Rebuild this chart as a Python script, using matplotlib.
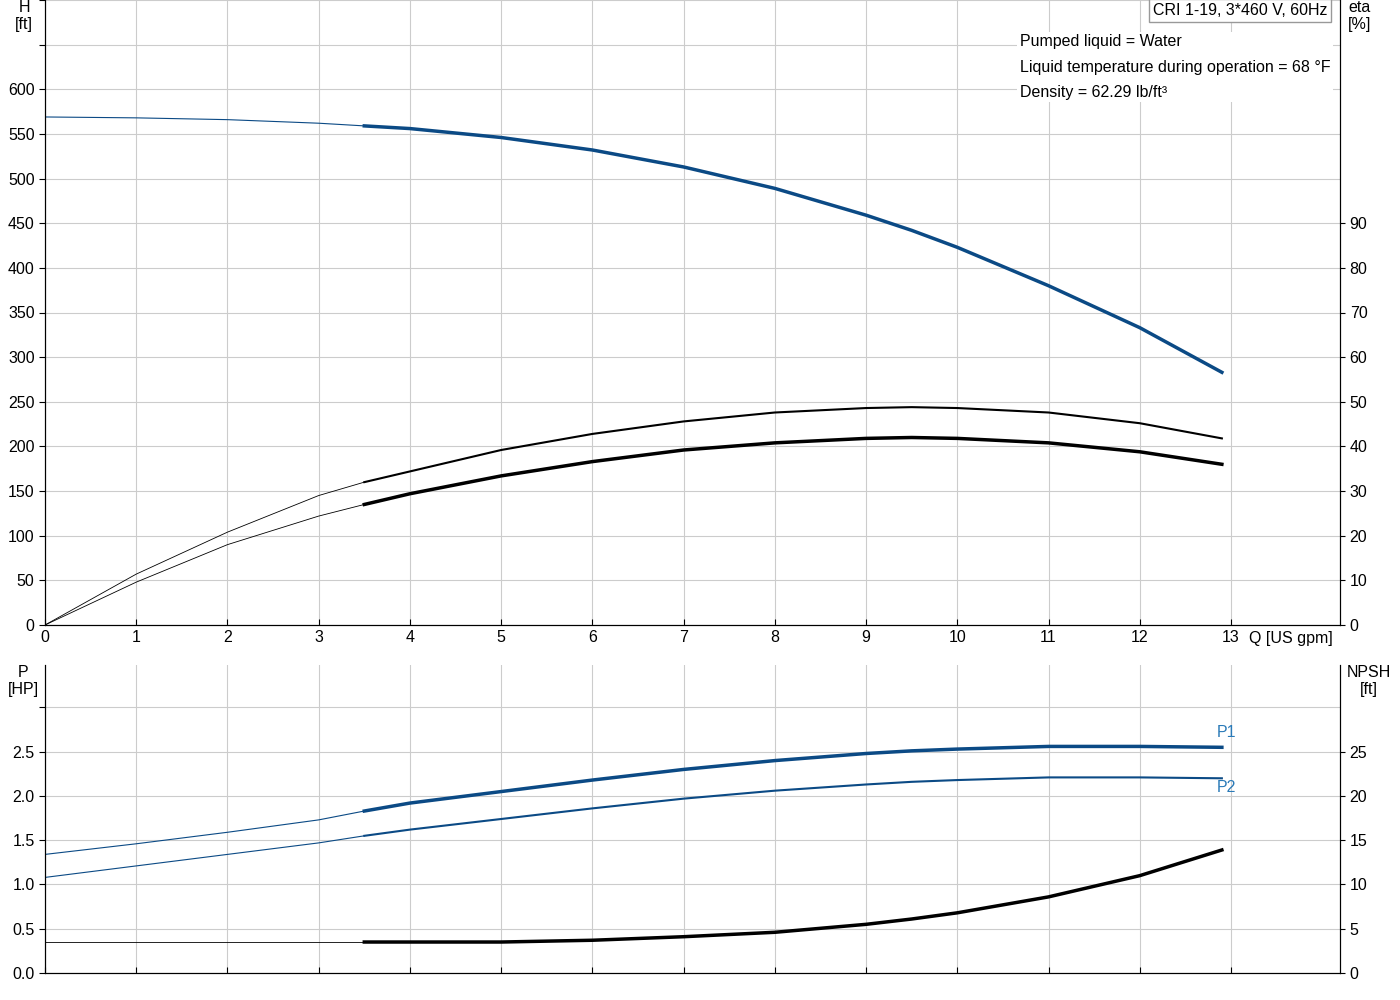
import matplotlib
matplotlib.use("Agg")
import matplotlib.pyplot as plt
import numpy as np

plt.rcParams['font.family'] = ['Liberation Sans', 'DejaVu Sans']

q = [0, 1, 2, 3, 3.5, 4, 5, 6, 7, 8, 9, 9.5, 10, 11, 12, 12.9]
head = [569, 568, 566, 562, 559, 556, 546, 532, 513, 489, 459, 442, 423, 380, 333, 283]
eta_hi = [0, 11.4, 20.8, 29.0, 32.0, 34.4, 39.2, 42.8, 45.6, 47.6, 48.6, 48.8, 48.6, 47.6, 45.2, 41.8]
eta_lo = [0, 9.6, 18.0, 24.4, 27.0, 29.4, 33.4, 36.6, 39.2, 40.8, 41.8, 42.0, 41.8, 40.8, 38.8, 36.0]
p1 = [1.34, 1.46, 1.59, 1.73, 1.83, 1.92, 2.05, 2.18, 2.30, 2.40, 2.48, 2.51, 2.53, 2.56, 2.56, 2.55]
p2 = [1.08, 1.21, 1.34, 1.47, 1.55, 1.62, 1.74, 1.86, 1.97, 2.06, 2.13, 2.16, 2.18, 2.21, 2.21, 2.20]
npsh = [3.5, 3.5, 3.5, 3.5, 3.5, 3.5, 3.5, 3.7, 4.1, 4.6, 5.5, 6.1, 6.8, 8.6, 11.0, 13.9]
q_start = 3.5

blue = '#0b4a85'
grid = '#cccccc'

def split(x, y):
    x = np.array(x); y = np.array(y)
    m1 = x <= q_start; m2 = x >= q_start
    return (x[m1], y[m1]), (x[m2], y[m2])

fig = plt.figure(figsize=(14, 10), dpi=100)
ax1 = fig.add_axes([45/1400, 0.375, 1295/1400, 0.625])
ax2 = fig.add_axes([45/1400, 0.027, 1295/1400, 0.308])

for ax in (ax1, ax2):
    ax.set_xlim(0, 1295/1186*13)
    ax.set_xticks(range(14))
    ax.grid(True, color=grid, lw=0.8)
    ax.spines['top'].set_visible(False)
    ax.tick_params(labelsize=11.5, length=4, direction='in')
    ax.set_axisbelow(True)

# top
ax1.set_ylim(0, 700)
ax1.set_yticks(range(0, 701, 50))
ax1.set_yticklabels([str(v) if v <= 600 else '' for v in range(0, 701, 50)])
ax1.tick_params(axis='y', direction='out')
(a, b) = split(q, head)
ax1.plot(*a, color=blue, lw=0.8); ax1.plot(*b, color=blue, lw=2.5)
ax1r = ax1.twinx()
ax1r.set_ylim(0, 140)
ax1r.set_yticks(range(0, 100, 10))
ax1r.tick_params(labelsize=11.5, direction='out')
ax1r.spines['top'].set_visible(False)
a, b = split(q, eta_hi)
ax1r.plot(*a, color='black', lw=0.6); ax1r.plot(*b, color='black', lw=1.5)
a, b = split(q, eta_lo)
ax1r.plot(*a, color='black', lw=0.6); ax1r.plot(*b, color='black', lw=2.5)
ax1.text(-0.016, 1.0, 'H\n[ft]', transform=ax1.transAxes, ha='center', va='top', fontsize=11.5)
ax1r.text(1.015, 1.0, 'eta\n[%]', transform=ax1.transAxes, ha='center', va='top', fontsize=11.5)
ax1.text(13.2, -7, 'Q [US gpm]', ha='left', va='top', fontsize=11.5)
ax1.text(0.99, 0.995, 'CRI 1-19, 3*460 V, 60Hz', transform=ax1.transAxes, ha='right', va='top',
         fontsize=11.5, bbox=dict(facecolor='white', edgecolor='#999999', pad=3))
ax1.text(0.753, 0.945, 'Pumped liquid = Water\nLiquid temperature during operation = 68 °F\nDensity = 62.29 lb/ft³',
         transform=ax1.transAxes, ha='left', va='top', fontsize=11.5, linespacing=1.85,
         bbox=dict(facecolor='white', edgecolor='none', pad=2))

# bottom
ax2.set_ylim(0, 3.48)
ax2.set_yticks([0, 0.5, 1, 1.5, 2, 2.5, 3])
ax2.set_yticklabels(['0.0', '0.5', '1.0', '1.5', '2.0', '2.5', ''])
ax2.set_xticklabels([])
ax2.tick_params(axis='y', direction='out')
a, b = split(q, p1)
ax2.plot(*a, color=blue, lw=0.8); ax2.plot(*b, color=blue, lw=2.5)
a, b = split(q, p2)
ax2.plot(*a, color=blue, lw=0.8); ax2.plot(*b, color=blue, lw=1.5)
ax2.text(12.95, p1[-1] + 0.08, 'P1', color='#2a7ab8', fontsize=11.5, ha='center', va='bottom')
ax2.text(12.95, p2[-1] - 0.02, 'P2', color='#2a7ab8', fontsize=11.5, ha='center', va='top')
ax2r = ax2.twinx()
ax2r.set_ylim(0, 34.8)
ax2r.set_yticks(range(0, 30, 5))
ax2r.tick_params(labelsize=11.5, direction='out')
ax2r.spines['top'].set_visible(False)
a, b = split(q, npsh)
ax2r.plot(*a, color='black', lw=0.6); ax2r.plot(*b, color='black', lw=2.5)
ax2.text(-0.017, 1.0, 'P\n[HP]', transform=ax2.transAxes, ha='center', va='top', fontsize=11.5)
ax2r.text(1.022, 1.0, 'NPSH\n[ft]', transform=ax2.transAxes, ha='center', va='top', fontsize=11.5)

fig.savefig('out.png', dpi=100)
